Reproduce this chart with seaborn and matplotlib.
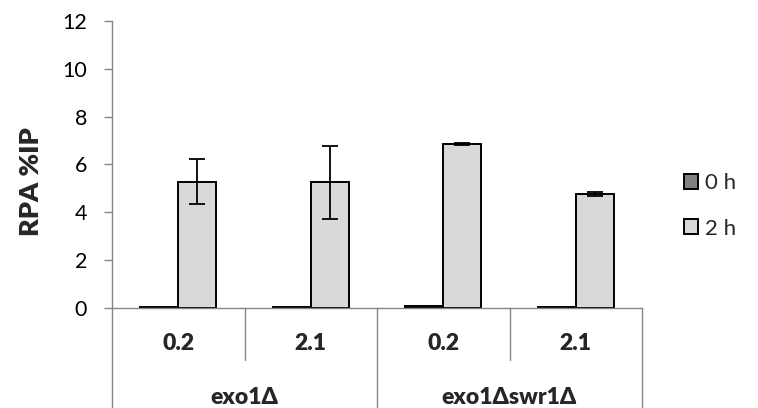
import matplotlib
matplotlib.use("Agg")
import matplotlib.pyplot as plt
import matplotlib.patches as mpatches
from matplotlib.transforms import blended_transform_factory
import numpy as np
import pandas as pd
import seaborn as sns

# ChIP of RPA at two distances from the break, in two strains
strains = ["exo1Δ", "exo1Δ", "exo1Δswr1Δ", "exo1Δswr1Δ"]
sites = ["0.2", "2.1", "0.2", "2.1"]
times = ["0 h", "2 h"]
rpa_0h = [0.06, 0.05, 0.08, 0.06]
rpa_2h = [5.28, 5.26, 6.85, 4.77]
err_0h = [0.0, 0.0, 0.0, 0.0]
err_2h = [0.95, 1.52, 0.03, 0.07]
y_ticks = [0, 2, 4, 6, 8, 10, 12]

slots = [f"{g}|{s}" for g, s in zip(strains, sites)]
df = pd.DataFrame({
    "slot": slots * 2,
    "time": [times[0]] * 4 + [times[1]] * 4,
    "rpa": rpa_0h + rpa_2h,
})
errors = {times[0]: err_0h, times[1]: err_2h}
values = {times[0]: rpa_0h, times[1]: rpa_2h}

sns.set_style("white")
plt.rcParams["font.family"] = ["Lato", "DejaVu Sans"]

AXIS_GREY = "#868686"
BOLD = "heavy"
fig = plt.figure(figsize=(7.58, 4.08), dpi=100)
ax = fig.add_axes([112 / 758, 100 / 408, 530 / 758, 287 / 408])

palette = {"0 h": "#808080", "2 h": "#d9d9d9"}
sns.barplot(data=df, x="slot", y="rpa", hue="time", order=slots,
            hue_order=times, palette=palette, edgecolor="black",
            linewidth=1.4, width=0.575, errorbar=None, ax=ax, legend=False)

# error bars centred on the drawn bars
for t, cont in zip(times, ax.containers):
    xs = [p.get_x() + p.get_width() / 2 for p in cont.patches]
    errs = errors[t]
    if any(e > 0 for e in errs):
        ax.errorbar(xs, values[t], yerr=errs, fmt="none", ecolor="black",
                    elinewidth=1.3, capsize=5.5, capthick=1.3, zorder=5)

ax.set_xlim(-0.5, 3.5)
ax.set_ylim(0, 12)
ax.set_yticks(y_ticks)
ax.set_xticks([])
ax.set_xlabel("")
ax.set_ylabel("")
ax.tick_params(axis="y", which="major", left=True, length=6, width=1,
               color=AXIS_GREY, labelsize=15.5, pad=12, labelcolor="black")
for side in ["top", "right"]:
    ax.spines[side].set_visible(False)
for side in ["left", "bottom"]:
    ax.spines[side].set_color(AXIS_GREY)
    ax.spines[side].set_linewidth(1.0)

# two-level category axis drawn as a table under the plot
trans = blended_transform_factory(ax.transData, ax.transAxes)
full_bottom = -100 / 287
short_bottom = -52 / 287
for xpos, bottom in [(-0.5, full_bottom), (0.5, short_bottom),
                     (1.5, full_bottom), (2.5, short_bottom),
                     (3.5, full_bottom)]:
    ax.plot([xpos, xpos], [0, bottom], transform=trans, color=AXIS_GREY,
            lw=1.0, clip_on=False)
for i, s in enumerate(sites):
    ax.text(i, -35 / 287, s, transform=trans, ha="center", va="center",
            fontsize=16.5, fontweight=BOLD)
for label, centre in [(strains[0], 0.5), (strains[2], 2.5)]:
    ax.text(centre, -89 / 287, label, transform=trans, ha="center",
            va="center", fontsize=16.5, fontweight=BOLD)

fig.text(31 / 758, 1 - 182 / 408, "RPA %IP", rotation=90, ha="center",
         va="center", fontsize=19.5, fontweight=BOLD)

handles = [mpatches.Patch(facecolor=palette[t], edgecolor="black",
                          linewidth=1.4) for t in times]
fig.legend(handles, times, loc="upper left", frameon=False,
           bbox_to_anchor=(684 / 758, 1 - 173 / 408),
           bbox_transform=fig.transFigure, borderpad=0, borderaxespad=0,
           handlelength=0.65, handleheight=0.65, handletextpad=0.3,
           labelspacing=1.15, fontsize=16)

fig.savefig("out.png", dpi=100)
